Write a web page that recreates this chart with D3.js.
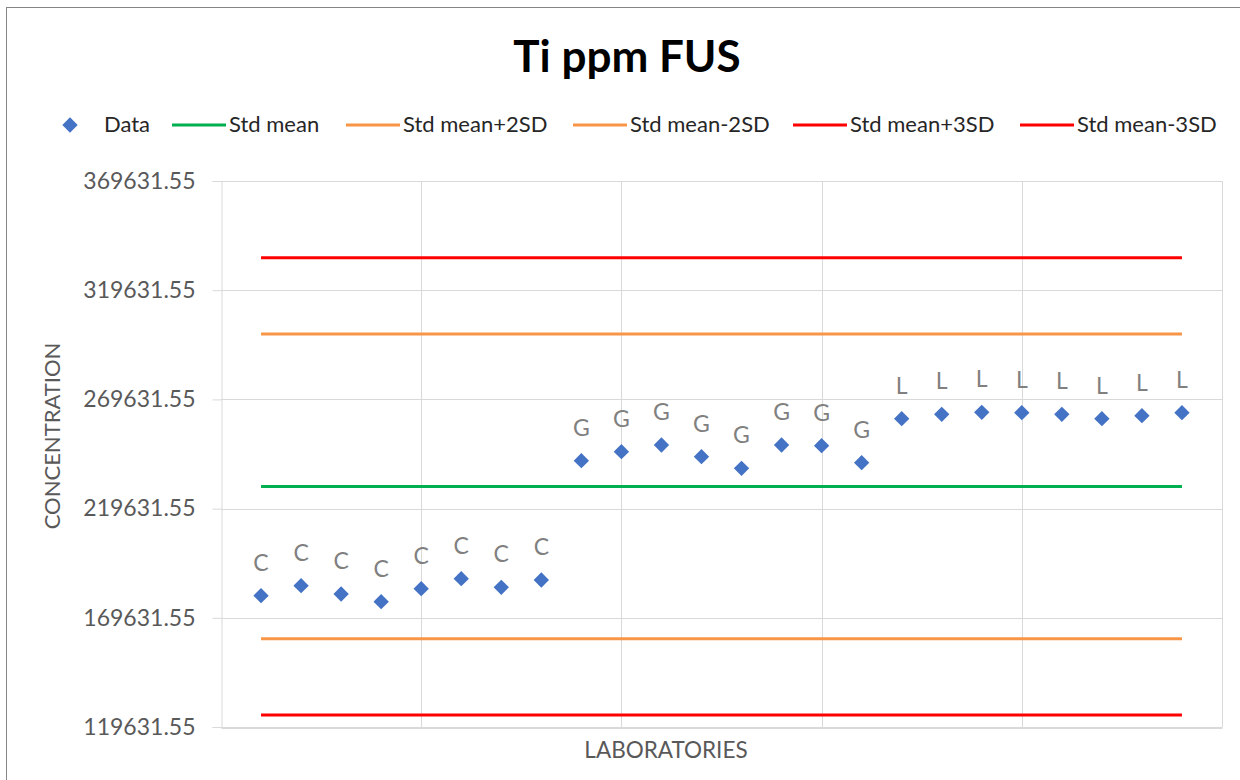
<!DOCTYPE html>
<html>
<head>
<meta charset="utf-8">
<script src="https://cdn.jsdelivr.net/npm/d3@7"></script>
<style>
  html, body { margin: 0; padding: 0; background: #fff; }
  svg { display: block; font-family: Lato, "Open Sans", sans-serif; }
</style>
</head>
<body>
<svg id="chart" width="1240" height="780"></svg>
<script>
// ---- data ----
const labs = ["C","C","C","C","C","C","C","C","G","G","G","G","G","G","G","G","L","L","L","L","L","L","L","L"];
const values = [179752, 184330, 180530, 177005, 182957, 187535, 183597, 186940,
                241566, 245687, 248754, 243397, 238085, 248754, 248434, 240650,
                260797, 262811, 263727, 263544, 262811, 260797, 262170, 263544];
const stdMean = 229800;
const stdDev = 34900;
const yTicks = [119631.55, 169631.55, 219631.55, 269631.55, 319631.55, 369631.55];
const refLines = [
  {name: "Std mean", k: 0, color: "#00b050"},
  {name: "Std mean+2SD", k: 2, color: "#f79646"},
  {name: "Std mean-2SD", k: -2, color: "#f79646"},
  {name: "Std mean+3SD", k: 3, color: "#ff0000"},
  {name: "Std mean-3SD", k: -3, color: "#ff0000"}
];

(function () {
const svg = d3.select("#chart");
// outer border
svg.append("rect").attr("x", 6.5).attr("y", 7.5).attr("width", 1250).attr("height", 800)
  .attr("fill", "none").attr("stroke", "#868686").attr("stroke-width", 1);

const pLeft = 221, pRight = 1222, pTop = 181, pBottom = 727;
const x = d3.scaleLinear().domain([0, 25]).range([pLeft, pRight]);
const y = d3.scaleLinear().domain([119631.55, 369631.55]).range([pBottom, pTop]);

// gridlines
const g = svg.append("g");
g.selectAll("line.hg").data(yTicks).join("line")
  .attr("x1", pLeft).attr("x2", pRight)
  .attr("y1", d => Math.round(y(d)) + 0.5).attr("y2", d => Math.round(y(d)) + 0.5)
  .attr("stroke", "#d9d9d9").attr("stroke-width", 1);
g.selectAll("line.vg").data([5, 10, 15, 20, 25]).join("line")
  .attr("x1", d => Math.round(x(d)) + 0.5).attr("x2", d => Math.round(x(d)) + 0.5)
  .attr("y1", pTop).attr("y2", pBottom)
  .attr("stroke", "#d9d9d9").attr("stroke-width", 1);

// y axis
const yAxis = d3.axisLeft(y).tickValues(yTicks).tickFormat(d => d3.format(".2f")(d)).tickSize(9).tickPadding(17);
const ya = svg.append("g").attr("transform", `translate(${pLeft + 0.5},0)`).call(yAxis);
ya.select(".domain").attr("stroke", "#d9d9d9");
ya.selectAll(".tick line").attr("stroke", "#d9d9d9");
ya.selectAll(".tick text").attr("fill", "#595959").style("font-size", "23px")
  .style("font-family", "Lato, sans-serif");

// x axis line
const xAxis = d3.axisBottom(x).tickValues([]).tickSizeOuter(0);
const xa = svg.append("g").attr("transform", `translate(0,${pBottom + 0.5})`).call(xAxis);
xa.select(".domain").attr("stroke", "#d9d9d9").attr("stroke-width", 2);

// reference lines
svg.append("g").selectAll("line").data(refLines).join("line")
  .attr("x1", x(1)).attr("x2", x(24))
  .attr("y1", d => y(stdMean + d.k * stdDev)).attr("y2", d => y(stdMean + d.k * stdDev))
  .attr("stroke", d => d.color).attr("stroke-width", 3);

// data points (diamonds)
const diamond = d3.symbol().type(d3.symbolDiamond2).size(150);
svg.append("g").selectAll("path").data(values).join("path")
  .attr("d", diamond)
  .attr("transform", (d, i) => `translate(${x(i + 1)},${y(d)})`)
  .attr("fill", "#4472c4");

// data labels
svg.append("g").selectAll("text").data(values).join("text")
  .attr("x", (d, i) => x(i + 1))
  .attr("y", d => y(d) - 25)
  .attr("text-anchor", "middle")
  .attr("fill", "#808080")
  .style("font-size", "23px")
  .text((d, i) => labs[i]);

// title
svg.append("text").attr("x", 627).attr("y", 72).attr("text-anchor", "middle")
  .style("font-size", "44px").style("font-weight", "bold").attr("fill", "#000")
  .text("Ti ppm FUS");

// axis titles
svg.append("text").attr("transform", "translate(60,436) rotate(-90)").attr("text-anchor", "middle")
  .attr("fill", "#595959").style("font-size", "22px").text("CONCENTRATION");
svg.append("text").attr("x", 666).attr("y", 758).attr("text-anchor", "middle")
  .attr("fill", "#595959").style("font-size", "22.5px").text("LABORATORIES");

// legend
const legend = svg.append("g");
const legY = 125;
legend.append("path").attr("d", diamond).attr("transform", `translate(70,${legY})`).attr("fill", "#4472c4");
legend.append("text").attr("x", 104).attr("y", legY + 7).attr("fill", "#262626").style("font-size", "22px").text("Data");
const legX = [172, 346, 573, 793, 1020];
refLines.forEach((d, i) => {
  legend.append("line").attr("x1", legX[i]).attr("x2", legX[i] + 54).attr("y1", legY).attr("y2", legY)
    .attr("stroke", d.color).attr("stroke-width", 3);
  legend.append("text").attr("x", legX[i] + 57).attr("y", legY + 7).attr("fill", "#262626")
    .style("font-size", "22px").text(d.name);
});
})();
</script>
</body>
</html>
